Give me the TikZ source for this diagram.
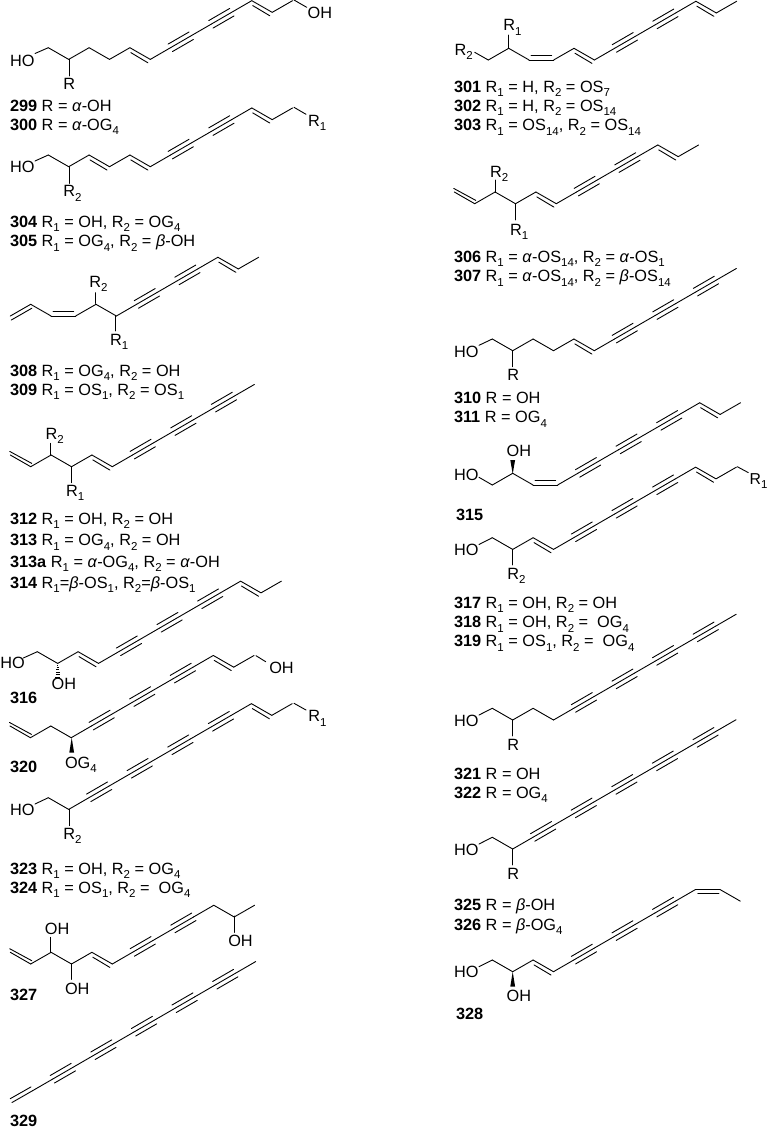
\documentclass[tikz,border=0pt]{standalone}
\usepackage{fontspec}
\setmainfont{Liberation Sans}
\usetikzlibrary{calc}
\newcommand\subs[1]{\raisebox{-0.27em}{\fontsize{11.5}{11.5}\selectfont #1}}
\newcommand\gset[2]{\pgfmathsetmacro\tmpa{\gx+(#1)}\pgfmathsetmacro\tmpb{\gy+(#2)}\global\let\gx\tmpa\global\let\gy\tmpb}
% single bonds
\newcommand\tku{\draw[bond] (\gx,\gy) -- ++(20.4,-11.7); \gset{20.4}{-11.7}}
\newcommand\tkv{\draw[bond] (\gx,\gy) -- ++(20.4,11.7); \gset{20.4}{11.7}}
\newcommand\tks{\draw[bond] (\gx,\gy) -- ++(20.3,-11.75); \gset{20.3}{-11.75}}
% triple bond
\newcommand\tkT{\draw[bond] (\gx,\gy) -- ++(20.3,-11.75);
  \draw[bond] ($(\gx,\gy)+(-2.5,-3.55)$) -- ++(21,-12.15);
  \draw[bond] ($(\gx,\gy)+(1.8,3.95)$) -- ++(21,-12.15);
  \gset{20.3}{-11.75}}
% double bonds
\newcommand\tkV{\draw[bond] (\gx,\gy) -- ++(20.4,11.7);
  \draw[bond] ($(\gx,\gy)+(0.9,4.9)$) -- ($(\gx,\gy)+(18,15.1)$); \gset{20.4}{11.7}}
\newcommand\tkW{\draw[bond] (\gx,\gy) -- ++(20.4,11.7);
  \draw[bond] ($(\gx,\gy)+(-0.6,-3.6)$) -- ($(\gx,\gy)+(21.5,8.4)$); \gset{20.4}{11.7}}
\newcommand\tkY{\draw[bond] (\gx,\gy) -- ++(20.4,-11.7);
  \draw[bond] ($(\gx,\gy)+(1,4)$) -- ($(\gx,\gy)+(21.6,-7.8)$); \gset{20.4}{-11.7}}
\newcommand\tkZ{\draw[bond] (\gx,\gy) -- ++(20.4,-11.7);
  \draw[bond] ($(\gx,\gy)+(-1.8,-3.8)$) -- ($(\gx,\gy)+(19,-15.6)$); \gset{20.4}{-11.7}}
\newcommand\tkH{\draw[bond] (\gx,\gy) -- ++(24.5,0);
  \draw[bond] ($(\gx,\gy)+(1.9,-4.4)$) -- ($(\gx,\gy)+(22.6,-4.4)$); \gset{24.5}{0}}
\newcommand\tkJ{\draw[bond] (\gx,\gy) -- ++(24.3,0);
  \draw[bond] ($(\gx,\gy)+(2.2,4.4)$) -- ($(\gx,\gy)+(23.2,4.4)$); \gset{24.3}{0}}
\newcommand\Walk[3]{\gdef\gx{#1}\gdef\gy{#2}\foreach\tok in {#3}{\csname tk\tok\endcsname}}
\newcommand\lab[4]{\node[lbl] (#1) at (#2,#3) {#4};}
\newcommand\atm[4]{\node[atomlbl] (#1) at (#2,#3) {#4};}
\newcommand\Rr[1]{R\subs{#1}}
\newcommand\al{\textit{α}}
\newcommand\be{\textit{β}}
\newcommand\Og{OG\subs{4}}
\newcommand\Os[1]{OS\subs{#1}}
\newcommand\wedgeb[3]{\fill[black] (#1,#2) -- (#1-2.4,#3) -- (#1+2.4,#3) -- cycle;}
\tikzset{
  bond/.style={line width=0.9pt,line cap=round,line join=round,black},
  lbl/.style={anchor=base west,inner sep=0pt,outer sep=0pt,font=\fontsize{16.3}{19}\selectfont},
  atomlbl/.style={lbl,font=\fontsize{16.3}{19}\selectfont}
}
\begin{document}
\begin{tikzpicture}[x=1pt,y=-1pt]
\useasboundingbox (0,0) rectangle (768,1128);
% ---------- left column ----------
% 299/300
\Walk{48.3}{47.7}{v,u,v,u,V,s,T,s,T,s,V,u}
\draw[bond] (35,53.5) -- (48.3,47.7);
\draw[bond] (294,0) -- (306.7,7.3);
\draw[bond] (69,59.4) -- (69,76);
\atm{a299a}{10}{66}{HO}
\atm{a299b}{307.7}{18.3}{OH}
\atm{a299c}{63.3}{89.3}{R}
\lab{t299}{10}{111}{\textbf{299} R = \al-OH}
\lab{t300}{10}{130}{\textbf{300} R = \al-\Og}
% 304/305
\Walk{48.3}{155}{v,u,V,u,V,s,T,s,T,s,V,u}
\draw[bond] (35,161) -- (48.3,155);
\draw[bond] (294,107.3) -- (306,114.3);
\draw[bond] (69,166.7) -- (69,183.3);
\atm{a304a}{10}{172.7}{HO}
\atm{a304b}{308}{126}{\Rr{1}}
\atm{a304c}{63.3}{196.7}{\Rr{2}}
\lab{t304}{10}{227.5}{\textbf{304} \Rr{1} = OH, \Rr{2} = \Og}
\lab{t305}{10}{246.7}{\textbf{305} \Rr{1} = \Og, \Rr{2} = \be-OH}
% 308/309
\Walk{10.3}{316}{Y,v,H,u,v,s,T,s,T,s,V,u}
\draw[bond] (95,303.3) -- (95,292.7);
\draw[bond] (115.7,315.7) -- (115.7,331);
\atm{a308a}{89.3}{287.3}{\Rr{2}}
\atm{a308b}{110}{345}{\Rr{1}}
\lab{t308}{10}{376}{\textbf{308} \Rr{1} = \Og, \Rr{2} = OH}
\lab{t309}{10}{395}{\textbf{309} \Rr{1} = \Os{1}, \Rr{2} = \Os{1}}
% 312-314
\Walk{10.3}{455}{W,u,v,u,V,s,T,s,T,s,T,s}
\draw[bond] (50.7,455) -- (50.7,443.3);
\draw[bond] (71.7,466.7) -- (71.7,482.7);
\atm{a312a}{45.7}{439.3}{\Rr{2}}
\atm{a312b}{66}{496}{\Rr{1}}
\lab{t312}{10}{524}{\textbf{312} \Rr{1} = OH, \Rr{2} = OH}
\lab{t313}{10}{545.7}{\textbf{313} \Rr{1} = \Og, \Rr{2} = OH}
\lab{t313a}{10}{567.3}{\textbf{313a} \Rr{1} = \al-\Og, \Rr{2} = \al-OH}
\lab{t314}{10}{588.3}{\textbf{314} \Rr{1}=\be-\Os{1}, \Rr{2}=\be-\Os{1}}
% 316
\Walk{37.3}{651.7}{v,u,V,s,T,s,T,s,T,s,V,u}
\draw[bond] (23.3,658) -- (37.3,651.7);
\foreach \yy/\ww in {665/0.6,667.4/1,669.8/1.4,672.2/1.8,674.6/2.2,677/2.5}{
  \draw[line width=0.8pt,black] (57.7-\ww,\yy) -- (57.7+\ww,\yy);}
\atm{a316a}{0.3}{668.3}{HO}
\atm{a316b}{51.7}{689.3}{OH}
\lab{t316}{10}{703.3}{\textbf{316}}
% 320
\Walk{10}{726}{W,u,v,s,T,s,T,s,T,s,V,u}
\draw[bond] (256,655.7) -- (265.7,661.7);
\wedgeb{71.7}{737.7}{752.7}
\atm{a320a}{269.3}{673.3}{OH}
\atm{a320b}{65}{768.3}{\Og}
\lab{t320}{10}{772.3}{\textbf{320}}
% 323/324
\Walk{48.3}{797.7}{v,s,T,s,T,s,T,s,T,s,V,u}
\draw[bond] (35,804) -- (48.3,797.7);
\draw[bond] (294,703.3) -- (306,710);
\draw[bond] (69,809.3) -- (69,825.7);
\atm{a323a}{10}{815.7}{HO}
\atm{a323b}{308.3}{721.7}{\Rr{1}}
\atm{a323c}{63.3}{839.3}{\Rr{2}}
\lab{t323}{10}{874.3}{\textbf{323} \Rr{1} = OH, \Rr{2} = \Og}
\lab{t324}{10}{893.3}{\textbf{324} \Rr{1} = \Os{1}, \Rr{2} = \ \Og}
% 327
\Walk{10.3}{952.3}{W,u,v,u,V,s,T,s,T,s,v,u}
\draw[bond] (50.7,952.3) -- (50.7,937.3);
\draw[bond] (71.7,964) -- (71.7,979.3);
\draw[bond] (234.3,916) -- (234.3,932.3);
\atm{a327a}{45}{934.3}{OH}
\atm{a327b}{65}{994}{OH}
\atm{a327c}{228.3}{946}{OH}
\lab{t327}{10}{1000}{\textbf{327}}
% 329
\Walk{12}{1102.5}{Z,s,T,s,T,s,T,s,T,s,T,s}
\lab{t329}{10}{1126.3}{\textbf{329}}
% ---------- right column ----------
% 301-303
\Walk{488.3}{60}{u,v,H,u,V,s,T,s,T,s,V,u}
\draw[bond] (474.7,52.3) -- (488.3,60);
\draw[bond] (508.7,48.3) -- (508.7,35);
\atm{a301a}{454.7}{55}{\Rr{2}}
\atm{a301b}{503.3}{30.7}{\Rr{1}}
\lab{t301}{454}{92}{\textbf{301} \Rr{1} = H, \Rr{2} = \Os{7}}
\lab{t302}{454}{111.3}{\textbf{302} \Rr{1} = H, \Rr{2} = \Os{14}}
\lab{t303}{454}{130.7}{\textbf{303} \Rr{1} = \Os{14}, \Rr{2} = \Os{14}}
% 306/307
\Walk{454.3}{192}{W,u,v,u,V,s,T,s,T,s,V,u}
\draw[bond] (495,192.3) -- (495,180);
\draw[bond] (515.7,204) -- (515.7,220);
\atm{a306a}{490}{177.3}{\Rr{2}}
\atm{a306b}{510}{235}{\Rr{1}}
\lab{t306}{454}{262.3}{\textbf{306} \Rr{1} = \al-\Os{14}, \Rr{2} = \al-\Os{1}}
\lab{t307}{454}{281.7}{\textbf{307} \Rr{1} = \al-\Os{14}, \Rr{2} = \be-\Os{14}}
% 310/311
\Walk{492.3}{339}{v,u,v,u,V,s,T,s,T,s,T,s}
\draw[bond] (479,345.3) -- (492.3,339);
\draw[bond] (512.7,350.7) -- (512.7,366.7);
\atm{a310a}{454}{357.3}{HO}
\atm{a310b}{507.3}{380.7}{R}
\lab{t310}{454}{403.3}{\textbf{310} R = OH}
\lab{t311}{454}{422.7}{\textbf{311} R = \Og}
% 315
\Walk{492.3}{485}{u,v,H,s,T,s,T,s,T,s,V,u}
\draw[bond] (479,477.3) -- (492.3,485);
\fill[black] (512.7,474) -- (510.3,460) -- (515.1,460) -- cycle;
\atm{a315a}{454}{480.7}{HO}
\atm{a315b}{506.7}{456.7}{OH}
\lab{t315}{456}{520}{\textbf{315}}
% 317-319
\Walk{492.3}{537.7}{v,u,V,s,T,s,T,s,T,s,V,u}
\draw[bond] (479,544.5) -- (492.3,537.7);
\draw[bond] (737.3,466.7) -- (748.3,472.6);
\draw[bond] (512.7,549.3) -- (512.7,565);
\atm{a317a}{454}{555}{HO}
\node[atomlbl,font=\fontsize{15.8}{19}\selectfont] (a317b) at (749.6,484) {\Rr{1}};
\atm{a317c}{507.3}{579.3}{\Rr{2}}
\lab{t317}{454}{608.3}{\textbf{317} \Rr{1} = OH, \Rr{2} = OH}
\lab{t318}{454}{627.7}{\textbf{318} \Rr{1} = OH, \Rr{2} = \ \Og}
\lab{t319}{454}{646.7}{\textbf{319} \Rr{1} = \Os{1}, \Rr{2} = \ \Og}
% 321/322
\Walk{492.3}{708.3}{v,u,v,s,T,s,T,s,T,s,T,s}
\draw[bond] (479,715) -- (492.3,708.3);
\draw[bond] (512.7,720) -- (512.7,736);
\atm{a321a}{454}{726.7}{HO}
\atm{a321b}{507.3}{750}{R}
\lab{t321}{454}{779}{\textbf{321} R = OH}
\lab{t322}{454}{798.3}{\textbf{322} R = \Og}
% 325/326
\Walk{492.3}{837.3}{v,s,T,s,T,s,T,s,T,s,T,s}
\draw[bond] (479,844) -- (492.3,837.3);
\draw[bond] (512.7,849) -- (512.7,865);
\atm{a325a}{454}{855}{HO}
\atm{a325b}{507.3}{879}{R}
\lab{t325}{454}{910.7}{\textbf{325} R = \be-OH}
\lab{t326}{454}{930}{\textbf{326} R = \be-\Og}
% 328
\Walk{492.3}{960}{v,u,V,s,T,s,T,s,T,s,J,v}
\draw[bond] (479,966.7) -- (492.3,960);
\wedgeb{512.7}{971.7}{986.7}
\atm{a328a}{454}{977.3}{HO}
\atm{a328b}{506.7}{1001}{OH}
\lab{t328}{456}{1019.3}{\textbf{328}}
\end{tikzpicture}
\end{document}
